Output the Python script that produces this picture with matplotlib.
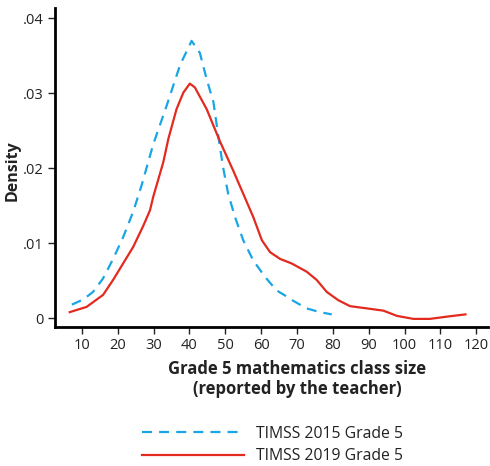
import matplotlib
matplotlib.use("Agg")
import matplotlib.pyplot as plt
from matplotlib.lines import Line2D

plt.rcParams['font.family'] = ['Open Sans', 'DejaVu Sans']

# TIMSS 2015 Grade 5 density
x2015 = [7.2, 10.4, 13.1, 15.9, 18.7, 21.5, 24.3, 26.7, 29.9, 33.6, 37.4, 40.6, 42.9, 44.8, 46.7,
         48.2, 49.4, 50.8, 52.7, 55.0, 57.8, 61.1, 64.3, 67.1, 69.0, 72.7, 76.4, 79.7]
y2015 = [0.0018, 0.0025, 0.0035, 0.0053, 0.0079, 0.0108, 0.0142, 0.0178, 0.0232, 0.0283, 0.0338, 0.0370, 0.0354, 0.0319, 0.0288,
         0.0238, 0.0201, 0.0166, 0.0135, 0.0104, 0.0077, 0.0055, 0.0037, 0.0029, 0.0023, 0.0013, 0.0008, 0.0005]

# TIMSS 2019 Grade 5 density
x2019 = [6.6, 11.3, 15.9, 18.7, 21.5, 24.3, 27.1, 29.0, 29.9, 32.7, 34.1, 36.4, 38.3, 40.1, 41.5, 44.8,
         48.5, 52.2, 55.0, 57.8, 60.2, 62.5, 65.3, 68.5, 72.7, 75.5, 78.3, 81.5, 84.8, 89.5, 94.1,
         97.9, 102.5, 107.1, 111.8, 117.0]
y2019 = [0.0008, 0.0015, 0.0031, 0.0051, 0.0073, 0.0095, 0.0123, 0.0144, 0.0162, 0.0208, 0.0239, 0.0279, 0.0301, 0.0313, 0.0308, 0.0279,
         0.0236, 0.0197, 0.0166, 0.0135, 0.0104, 0.0088, 0.0079, 0.0073, 0.0062, 0.0051, 0.0035, 0.0024, 0.0016, 0.0013, 0.0010,
         0.0003, -0.0001, -0.0001, 0.0002, 0.0005]

xticks = [10, 20, 30, 40, 50, 60, 70, 80, 90, 100, 110, 120]
yticks = [0, 0.01, 0.02, 0.03, 0.04]
ytick_labels = ['0', '.01', '.02', '.03', '.04']
labels = ['TIMSS 2015 Grade 5', 'TIMSS 2019 Grade 5']

blue = '#1AA6E4'
red = '#E32A1F'
txt = '#222222'

fig = plt.figure(figsize=(4.9, 4.66), dpi=100)
ax = fig.add_axes([0.112, 0.298, 0.884, 0.685])

ax.plot(x2015, y2015, color=blue, lw=1.6, dashes=(4.5, 3.2), dash_capstyle='butt')
ax.plot(x2019, y2019, color=red, lw=1.6, solid_joinstyle='round')

ax.set_xlim(2.46, 123.3)
ax.set_ylim(-0.0012, 0.0414)
ax.set_xticks(xticks)
ax.set_yticks(yticks)
ax.set_yticklabels(ytick_labels)

for s in ['top', 'right']:
    ax.spines[s].set_visible(False)
for s in ['left', 'bottom']:
    ax.spines[s].set_linewidth(2)
ax.tick_params(axis='both', direction='out', length=5, width=1, labelsize=10.5, colors=txt, pad=3)

ax.set_xlabel('Grade 5 mathematics class size\n(reported by the teacher)', fontsize=12,
              fontweight='bold', color=txt, linespacing=1.1)
ax.xaxis.set_label_coords(0.559, -0.104, transform=ax.transAxes)
ax.xaxis.label.set_va('top')
ax.set_ylabel('Density', fontsize=11.5, fontweight='bold', color=txt)
ax.yaxis.set_label_coords(-0.0785, 0.49)

handles = [Line2D([0], [0], color=blue, lw=1.6, dashes=(4.5, 3.2)),
           Line2D([0], [0], color=red, lw=1.6)]
fig.legend(handles, labels, loc='center', bbox_to_anchor=(0.557, 0.045), frameon=False,
           fontsize=11.3, handlelength=6.5, handletextpad=0.76, labelspacing=0.4,
           labelcolor=txt, borderaxespad=0, borderpad=0)

fig.savefig('out.png', dpi=100)
